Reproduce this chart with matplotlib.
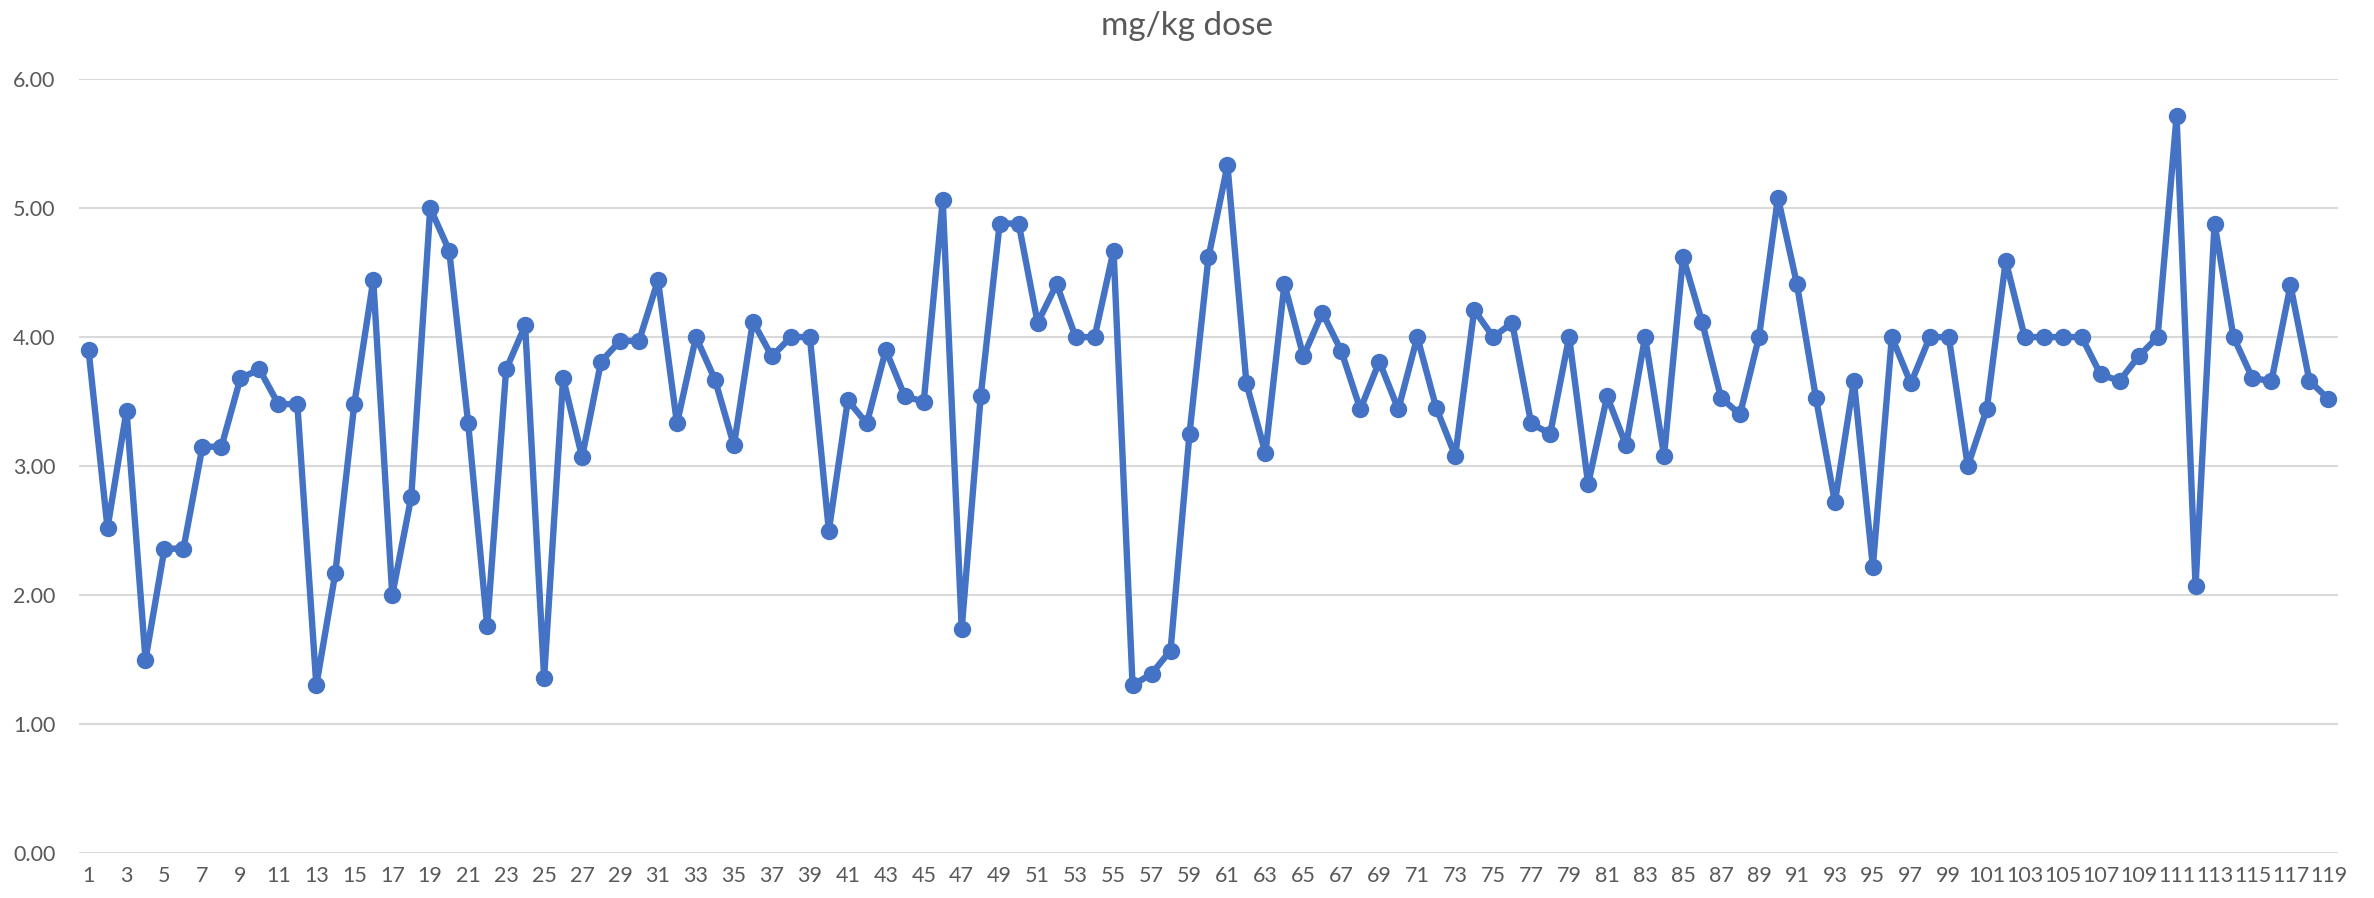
import numpy as np
import matplotlib.pyplot as plt
from matplotlib.ticker import FormatStrFormatter


# Значения дозы (мг/кг) по порядку наблюдений
dose = [
    3.90, 2.52, 3.43, 1.50, 2.36, 2.36, 3.15, 3.15, 3.68, 3.75,
    3.48, 3.48, 1.30, 2.17, 3.48, 4.44, 2.00, 2.76, 5.00, 4.67,
    3.33, 1.76, 3.75, 4.09, 1.36, 3.68, 3.07, 3.81, 3.97, 3.97,
    4.44, 3.33, 4.00, 3.67, 3.16, 4.12, 3.85, 4.00, 4.00, 2.50,
    3.51, 3.33, 3.90, 3.54, 3.50, 5.06, 1.74, 3.54, 4.88, 4.88,
    4.11, 4.41, 4.00, 4.00, 4.67, 1.30, 1.39, 1.57, 3.25, 4.62,
    5.33, 3.64, 3.10, 4.41, 3.85, 4.19, 3.89, 3.44, 3.81, 3.44,
    4.00, 3.45, 3.08, 4.21, 4.00, 4.11, 3.33, 3.25, 4.00, 2.86,
    3.54, 3.16, 4.00, 3.08, 4.62, 4.12, 3.53, 3.40, 4.00, 5.08,
    4.41, 3.53, 2.72, 3.66, 2.22, 4.00, 3.64, 4.00, 4.00, 3.00,
    3.44, 4.59, 4.00, 4.00, 4.00, 4.00, 3.71, 3.66, 3.85, 4.00,
    5.71, 2.07, 4.88, 4.00, 3.68, 3.66, 4.40, 3.66, 3.52,
]
obs = np.arange(1, len(dose) + 1)
y_ticks = [0, 1, 2, 3, 4, 5, 6]

line_color = '#4472C4'
text_color = '#595959'
grid_color = '#D9D9D9'

plt.rcParams['font.family'] = ['Lato', 'DejaVu Sans']

fig = plt.figure(figsize=(23.74, 8.98), dpi=100)
ax = fig.add_axes([0.0333, 0.050, 0.9515, 0.862])

ax.plot(obs, dose, color=line_color, linewidth=4.6, marker='o',
        markersize=11.5, markerfacecolor=line_color, markeredgecolor=line_color,
        solid_joinstyle='round', zorder=3)

ax.set_xlim(0.5, len(dose) + 0.5)
ax.set_ylim(0, 6)
ax.set_yticks(y_ticks)
ax.yaxis.set_major_formatter(FormatStrFormatter('%.2f'))
ax.set_xticks(obs[::2])
ax.set_xticklabels([str(i) for i in obs[::2]])

ax.grid(True, axis='y', color=grid_color, linewidth=1.5, zorder=0)
ax.set_axisbelow(True)
for side in ['top', 'right', 'left', 'bottom']:
    ax.spines[side].set_visible(False)

ax.tick_params(axis='both', length=0, labelsize=15.5, labelcolor=text_color)
ax.tick_params(axis='y', pad=17)
ax.tick_params(axis='x', pad=9)

fig.suptitle('mg/kg dose', fontsize=24, color=text_color, y=0.988, va='top')

fig.savefig('out.png', dpi=100)
